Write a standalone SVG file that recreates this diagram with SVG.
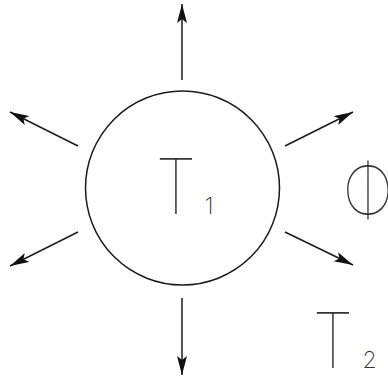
<svg xmlns="http://www.w3.org/2000/svg" width="388" height="381" viewBox="0 0 388 381">
<style>
.ln{stroke:#1a1a1a;stroke-width:1.5;fill:none}
.big{font-family:Inter,"Liberation Sans",sans-serif;font-weight:100;font-size:77px;fill:#333}
.sub{font-family:Inter,"Liberation Sans",sans-serif;font-weight:200;font-size:23px;fill:#333}
</style>
<defs>
<marker id="ah" markerUnits="userSpaceOnUse" markerWidth="20" markerHeight="12" refX="19" refY="5" orient="auto">
<path d="M0,0 L19,5 L0,10 L4,5 z" fill="#111"/>
</marker>
</defs>
<rect width="388" height="381" fill="#fff"/>
<g id="body">
<circle class="ln" cx="182.5" cy="188" r="97"/>
<text class="big" x="0" y="214" text-anchor="middle" transform="translate(176,0) scale(0.85,1)">T</text>
<text class="sub" x="209" y="214" text-anchor="middle">1</text>
</g>
<g id="phi">
<text class="big" x="0" y="218" text-anchor="middle" transform="translate(368,0) scale(0.75,1)">Φ</text>
</g>
<g id="t2">
<text class="big" x="0" y="368" text-anchor="middle" transform="translate(333,0) scale(0.85,1)">T</text>
<text class="sub" x="369.5" y="368" text-anchor="middle">2</text>
</g>
<g id="connectors">
<line class="ln" x1="182" y1="80" x2="182" y2="4" marker-end="url(#ah)"/>
<line class="ln" x1="182" y1="298" x2="182" y2="375" marker-end="url(#ah)"/>
<line class="ln" x1="78" y1="146" x2="10" y2="112" marker-end="url(#ah)"/>
<line class="ln" x1="78" y1="232" x2="10" y2="266" marker-end="url(#ah)"/>
<line class="ln" x1="285" y1="146" x2="353" y2="112" marker-end="url(#ah)"/>
<line class="ln" x1="285" y1="232" x2="353" y2="265" marker-end="url(#ah)"/>
</g>
</svg>
